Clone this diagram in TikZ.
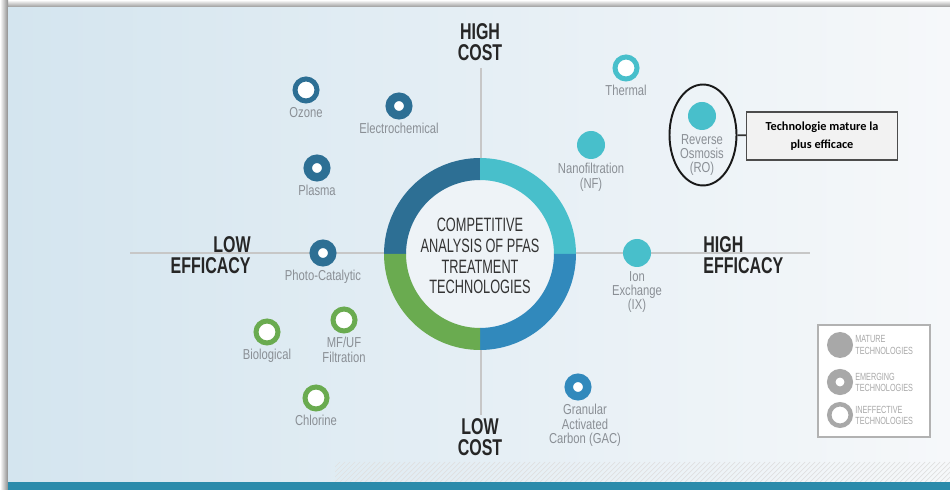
\documentclass[tikz,border=0pt]{standalone}
\usepackage{fontspec}
\setmainfont{Liberation Sans}
\newfontfamily\labfont{Liberation Sans}[FakeStretch=0.78]
\newfontfamily\headfont{Liberation Sans}[FakeStretch=0.70]
\newfontfamily\titlefont{Liberation Sans}[FakeStretch=0.66]
\newfontfamily\notefont{Carlito}
\usepackage{tikz}
\usetikzlibrary{shapes.geometric}

\definecolor{qdark}{HTML}{2D6F94}
\definecolor{qteal}{HTML}{48BFCB}
\definecolor{qmid}{HTML}{3189BC}
\definecolor{qgreen}{HTML}{6AAB50}
\definecolor{labgray}{HTML}{8A8F95}
\definecolor{leggray}{HTML}{A8A8A8}
\definecolor{bgleft}{HTML}{D4E5EF}
\definecolor{bgright}{HTML}{F6F8FA}
\definecolor{innerfill}{HTML}{EEF3F7}
\definecolor{barteal}{HTML}{2B8BAB}

\begin{document}
\begin{tikzpicture}[x=0.02cm, y=0.02cm, label distance=1pt,
  mature/.style={circle, fill=#1, minimum size=0.56cm, inner sep=0pt},
  emerging/.style={circle, draw=#1, fill=white, line width=0.17cm,
    minimum size=0.37cm, inner sep=0pt},
  ineffective/.style={circle, draw=#1, fill=white, line width=0.1cm,
    minimum size=0.44cm, inner sep=0pt},
  lab/.style={font=\labfont\fontsize{8.2}{8.2}\selectfont, text=labgray,
    align=center, inner sep=1pt},
  axislab/.style={font=\headfont\bfseries\fontsize{13}{11.6}\selectfont,
    text=black!85, inner sep=0pt},
  legtext/.style={font=\headfont\fontsize{5.9}{6.3}\selectfont,
    text=leggray, align=left, anchor=west, inner sep=0pt},
  notebox/.style={draw=black!70, fill=black!5, line width=0.8pt,
    minimum width=3.02cm, minimum height=0.96cm, align=center,
    font=\notefont\bfseries\fontsize{7}{10.6}\selectfont}]
  \useasboundingbox (0,0) rectangle (950,490);
  % frame and background
  \fill[white] (0,0) rectangle (950,490);
  \shade[top color=white, bottom color=black!45] (0,482) rectangle (950,490);
  \shade[left color=white, right color=black!45] (0,0) rectangle (8,490);
  \shade[left color=bgleft, right color=bgright] (8,8) rectangle (950,482);
  \fill[barteal] (8,0) rectangle (950,8);
  \begin{scope}
    \clip (335,8) rectangle (950,28);
    \foreach \i in {335,340,...,975}
      \draw[black!12, line width=0.4pt] (\i-20,8) -- (\i,28);
  \end{scope}
  % axes
  \draw[black!22, line width=1pt] (130,237) -- (810,237);
  \draw[black!22, line width=1pt] (481,422) -- (481,75);
  % centre ring
  \coordinate (c) at (480,236);
  \fill[innerfill] (c) circle[radius=1.48cm];
  \foreach \a/\col in {90/qdark, 0/qteal, 270/qmid, 180/qgreen}
    \fill[\col] (c) ++(\a:1.92cm) arc[start angle=\a, delta angle=90, radius=1.92cm]
      -- ++(\a+90:-0.44cm) arc[start angle=\a+90, delta angle=-90, radius=1.48cm] -- cycle;
  \node[font=\titlefont\fontsize{11}{11.8}\selectfont, text=black!80, align=center]
    (title) at (480,234) {COMPETITIVE\\ANALYSIS OF PFAS\\TREATMENT\\TECHNOLOGIES};
  % axis labels
  \node[axislab, align=center] (highcost) at (480,448) {HIGH\\COST};
  \node[axislab, align=center] (lowcost) at (480,53) {LOW\\COST};
  \node[axislab, align=right, anchor=east] (loweff) at (251,235) {LOW\\EFFICACY};
  \node[axislab, align=left, anchor=west] (higheff) at (703,235) {HIGH\\EFFICACY};
  % technologies
  \node[ineffective=qdark, label={[lab]below:Ozone}] (ozone) at (306,400) {};
  \node[emerging=qdark, label={[lab]below:Electrochemical}] (electro) at (399,384) {};
  \node[emerging=qdark, label={[lab]below:Plasma}] (plasma) at (317,322) {};
  \node[emerging=qdark, label={[lab]below:Photo-Catalytic}] (photo) at (323,237) {};
  \node[ineffective=qgreen, label={[lab]below:Biological}] (bio) at (267,158) {};
  \node[ineffective=qgreen, label={[lab]below:MF/UF\\Filtration}] (mfuf) at (344,170) {};
  \node[ineffective=qgreen, label={[lab]below:Chlorine}] (chlorine) at (316,92) {};
  \node[emerging=qmid, label={[lab, xshift=0.14cm]below:Granular\\Activated\\Carbon (GAC)}]
    (gac) at (578,103) {};
  \node[ineffective=qteal, label={[lab]below:Thermal}] (thermal) at (626,422) {};
  \node[mature=qteal, label={[lab]below:Nanofiltration\\(NF)}] (nano) at (591,345) {};
  \node[mature=qteal, label={[lab]below:Ion\\Exchange\\(IX)}] (ionx) at (637,237) {};
  \node[mature=qteal, label={[lab]below:Reverse\\Osmosis\\(RO)}] (ro) at (702,374) {};
  % callout
  \node[ellipse, draw=black!90, line width=1.1pt, minimum width=1.34cm,
    minimum height=2.02cm] (rofocus) at (703,355) {};
  \node[notebox] (note) at (822,354) {Technologie mature la\\plus efficace};
  \draw[black!80, line width=1pt] (rofocus) -- (note);
  % legend
  \draw[black!30, fill=white, line width=0.8pt] (818,53) rectangle (930,165);
  \node[mature=leggray, minimum size=0.52cm] (legmature) at (840,145) {};
  \node[emerging=leggray, minimum size=0.35cm] (legemerging) at (840,108) {};
  \node[ineffective=leggray, line width=0.09cm, minimum size=0.43cm] (legineff) at (840,75) {};
  \node[legtext] at (855,145) {MATURE\\TECHNOLOGIES};
  \node[legtext] at (855,108) {EMERGING\\TECHNOLOGIES};
  \node[legtext] at (855,75) {INEFFECTIVE\\TECHNOLOGIES};
\end{tikzpicture}
\end{document}
